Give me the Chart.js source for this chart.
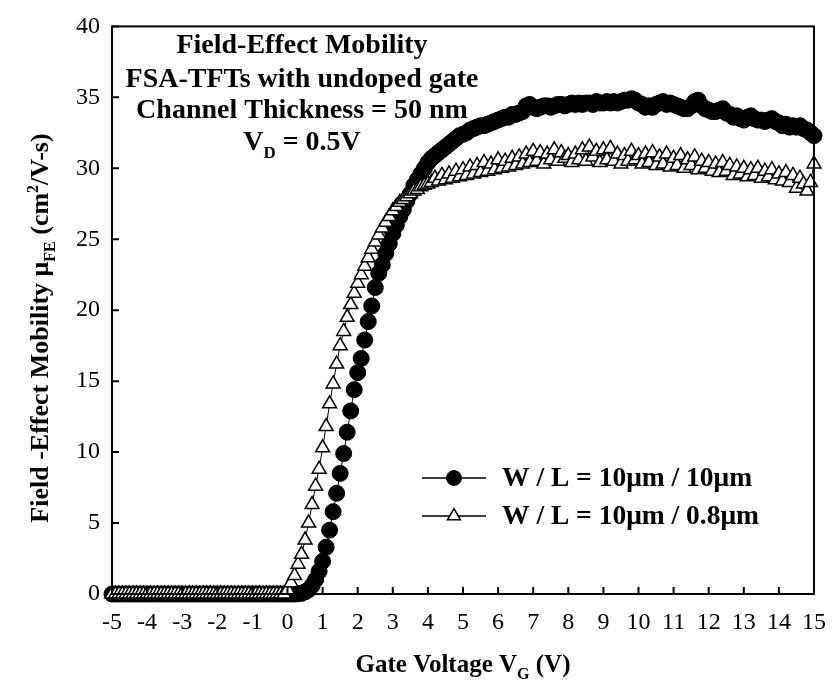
<!DOCTYPE html>
<html>
<head>
<meta charset="utf-8">
<script src="https://cdn.jsdelivr.net/npm/chart.js@4.4.1/dist/chart.umd.min.js"></script>
<style>
  body { margin: 0; background: #fff; }
  #wrap { width: 840px; height: 693px; }
</style>
</head>
<body>
<div id="wrap"><canvas id="mobilityChart" width="840" height="693"></canvas></div>
<script>
// gate voltage sweep: -5 V .. 15 V in 0.1 V steps
const gateVoltage = Array.from({ length: 201 }, (_, i) => Math.round(i - 50) / 10);

// W/L = 10um / 10um (filled circles)
const muLong = [
  0, 0, 0, 0, 0, 0, 0, 0, 0, 0,
  0, 0, 0, 0, 0, 0, 0, 0, 0, 0,
  0, 0, 0, 0, 0, 0, 0, 0, 0, 0,
  0, 0, 0, 0, 0, 0, 0, 0, 0, 0,
  0, 0, 0, 0, 0, 0, 0, 0, 0, 0,
  0, 0, 0, 0.02, 0.05, 0.15, 0.3, 0.6, 1.0, 1.6,
  2.3, 3.3, 4.5, 5.8, 7.1, 8.5, 9.9, 11.4, 12.9, 14.4,
  15.6, 16.6, 17.9, 19.2, 20.3, 21.6, 22.6, 23.2, 24.0, 24.7,
  25.4, 26.0, 26.6, 27.1, 27.7, 28.2, 28.8, 29.2, 29.6, 30.0,
  30.4, 30.7, 30.9, 31.1, 31.3, 31.5, 31.7, 31.9, 32.1, 32.3,
  32.4, 32.5, 32.7, 32.8, 32.9, 33.0, 33.0, 33.1, 33.2, 33.3,
  33.4, 33.5, 33.6, 33.6, 33.8, 33.8, 33.9, 34.0, 34.4, 34.5,
  34.3, 34.2, 34.3, 34.4, 34.4, 34.3, 34.4, 34.5, 34.5, 34.4,
  34.5, 34.6, 34.5, 34.6, 34.5, 34.6, 34.6, 34.5, 34.7, 34.6,
  34.6, 34.7, 34.6, 34.7, 34.6, 34.7, 34.8, 34.8, 34.9, 34.8,
  34.6, 34.5, 34.3, 34.4, 34.3, 34.5, 34.6, 34.7, 34.5, 34.6,
  34.5, 34.4, 34.3, 34.2, 34.2, 34.4, 34.7, 34.8, 34.4, 34.2,
  34.1, 34.0, 34.0, 34.1, 34.2, 33.9, 33.8, 33.6, 33.7, 33.5,
  33.4, 33.6, 33.7, 33.5, 33.4, 33.4, 33.3, 33.4, 33.5, 33.3,
  33.2, 33.0, 33.1, 32.9, 33.0, 32.9, 33.0, 32.8, 32.7, 32.5,
  32.3
];

// W/L = 10um / 0.8um (open triangles)
const muShort = [
  0, 0, 0, 0, 0, 0, 0, 0, 0, 0,
  0, 0, 0, 0, 0, 0, 0, 0, 0, 0,
  0, 0, 0, 0, 0, 0, 0, 0, 0, 0,
  0, 0, 0, 0, 0, 0, 0, 0, 0, 0,
  0, 0, 0, 0, 0, 0, 0, 0, 0, 0,
  0.3, 0.8, 1.3, 2.1, 2.8, 3.8, 5.0, 6.3, 7.6, 8.8,
  10.3, 11.8, 13.4, 14.8, 16.2, 17.5, 18.5, 19.5, 20.4, 21.2,
  21.9, 22.5, 23.1, 23.7, 24.3, 24.8, 25.3, 25.8, 26.2, 26.6,
  27.0, 27.3, 27.6, 27.8, 28.0, 28.2, 28.4, 28.5, 28.7, 28.8,
  28.9, 29.0, 29.3, 29.1, 29.5, 29.2, 29.6, 29.3, 29.8, 29.4,
  29.9, 29.5, 30.1, 29.6, 30.2, 29.7, 30.4, 29.8, 30.3, 29.9,
  30.6, 30.0, 30.5, 30.1, 30.7, 30.2, 30.8, 30.3, 31.0, 30.4,
  31.2, 30.5, 31.1, 30.3, 31.0, 30.6, 31.3, 30.5, 31.1, 30.7,
  30.9, 30.4, 31.0, 30.6, 31.3, 30.5, 31.5, 30.8, 31.2, 30.4,
  31.3, 30.6, 31.4, 30.5, 31.0, 30.3, 30.9, 30.5, 31.2, 30.6,
  30.9, 30.3, 31.0, 30.4, 31.1, 30.2, 30.8, 30.3, 31.0, 30.1,
  30.7, 30.2, 30.9, 30.0, 30.6, 30.2, 30.8, 29.9, 30.5, 30.0,
  30.4, 29.8, 30.3, 29.7, 30.4, 29.8, 30.2, 29.5, 30.1, 29.6,
  30.0, 29.4, 29.9, 29.5, 30.0, 29.3, 29.8, 29.4, 29.9, 29.2,
  29.6, 29.1, 29.7, 29.0, 29.5, 28.6, 29.3, 28.9, 28.4, 29.0,
  30.3
];

const seriesLabels = ["W / L = 10μm / 10μm", "W / L = 10μm / 0.8μm"];
const xRange = [-5, 15, 1];
const yRange = [0, 40, 5];

// rich text: [text, "" | "sub" | "sup"]
const noteLines = [
  [["Field-Effect Mobility", ""]],
  [["FSA-TFTs with undoped gate", ""]],
  [["Channel Thickness = 50 nm", ""]],
  [["V", ""], ["D", "sub"], [" = 0.5V", ""]]
];
const xTitle = [["Gate Voltage V", ""], ["G", "sub"], [" (V)", ""]];
const yTitle = [["Field -Effect Mobility μ", ""], ["FE", "sub"], [" (cm", ""], ["2", "sup"], ["/V-s)", ""]];

const SERIF = "'Liberation Serif', 'Times New Roman', serif";

function richWidth(ctx, segs, size) {
  let w = 0;
  segs.forEach(([t, kind]) => {
    ctx.font = "bold " + (kind ? Math.round(size * 0.62) : size) + "px " + SERIF;
    w += ctx.measureText(t).width;
  });
  return w;
}

function drawRich(ctx, segs, cx, y, size) {
  let x = cx - richWidth(ctx, segs, size) / 2;
  ctx.textAlign = "left";
  ctx.textBaseline = "alphabetic";
  segs.forEach(([t, kind]) => {
    const s = kind ? Math.round(size * 0.62) : size;
    ctx.font = "bold " + s + "px " + SERIF;
    let dy = 0;
    if (kind === "sub") dy = size * 0.28;
    if (kind === "sup") dy = -size * 0.38;
    ctx.fillText(t, x, y + dy);
    x += ctx.measureText(t).width;
  });
}

const decorPlugin = {
  id: "decor",
  afterDraw(chart) {
    const { ctx, chartArea: a, scales } = chart;
    ctx.save();
    ctx.fillStyle = "#000";
    ctx.strokeStyle = "#000";

    // frame
    ctx.lineWidth = 2;
    ctx.strokeRect(a.left, a.top, a.right - a.left, a.bottom - a.top);

    // inward ticks
    ctx.beginPath();
    scales.x.ticks.forEach((t) => {
      const px = scales.x.getPixelForValue(t.value);
      ctx.moveTo(px, a.bottom);
      ctx.lineTo(px, a.bottom - 7);
    });
    scales.y.ticks.forEach((t) => {
      const py = scales.y.getPixelForValue(t.value);
      ctx.moveTo(a.left, py);
      ctx.lineTo(a.left + 7, py);
    });
    ctx.stroke();

    // annotation block
    const noteX = 302;
    [53, 87, 118, 150].forEach((y, i) => drawRich(ctx, noteLines[i], noteX, y, 28));

    // axis titles
    drawRich(ctx, xTitle, (a.left + a.right) / 2, 672, 25);
    ctx.save();
    ctx.translate(48, 328);
    ctx.rotate(-Math.PI / 2);
    drawRich(ctx, yTitle, 0, 0, 26);
    ctx.restore();

    // legend
    const rows = [478, 516];
    chart.data.datasets.forEach((ds, i) => {
      const y = rows[i];
      ctx.lineWidth = 1.5;
      ctx.beginPath();
      ctx.moveTo(422, y);
      ctx.lineTo(486, y);
      ctx.stroke();
      ctx.fillStyle = ds.pointBackgroundColor;
      ctx.strokeStyle = ds.pointBorderColor;
      ctx.lineWidth = ds.pointBorderWidth;
      Chart.helpers.drawPoint(ctx, { pointStyle: ds.pointStyle, radius: 7.5, borderWidth: ds.pointBorderWidth, rotation: 0 }, 454, y);
      ctx.fillStyle = "#000";
      ctx.strokeStyle = "#000";
      ctx.font = "bold 27.5px " + SERIF;
      ctx.textAlign = "left";
      ctx.textBaseline = "middle";
      ctx.fillText(ds.label, 502, y + 1);
    });
    ctx.restore();
  }
};

new Chart(document.getElementById("mobilityChart"), {
  type: "line",
  data: {
    datasets: [
      {
        label: seriesLabels[0],
        data: gateVoltage.map((v, i) => ({ x: v, y: muLong[i] })),
        borderColor: "#000",
        borderWidth: 1,
        pointStyle: "circle",
        pointRadius: 8,
        pointBackgroundColor: "#000",
        pointBorderColor: "#000",
        pointBorderWidth: 1,
        clip: false,
        order: 1
      },
      {
        label: seriesLabels[1],
        data: gateVoltage.map((v, i) => ({ x: v, y: muShort[i] })),
        borderColor: "#000",
        borderWidth: 1,
        pointStyle: "triangle",
        pointRadius: 8,
        pointBackgroundColor: "#fff",
        pointBorderColor: "#000",
        pointBorderWidth: 1.5,
        clip: false,
        order: 0
      }
    ]
  },
  options: {
    responsive: false,
    animation: false,
    layout: { padding: { left: 0, top: 22, right: 14, bottom: 0 } },
    plugins: { legend: { display: false }, tooltip: { enabled: false } },
    scales: {
      x: {
        type: "linear",
        min: xRange[0],
        max: xRange[1],
        ticks: {
          stepSize: xRange[2],
          color: "#000",
          font: { family: SERIF, size: 24 },
          padding: 14,
          maxRotation: 0,
          autoSkip: false
        },
        grid: { display: false, drawTicks: false },
        border: { display: false },
        afterFit: (s) => { s.height = 99; }
      },
      y: {
        min: yRange[0],
        max: yRange[1],
        ticks: {
          stepSize: yRange[2],
          color: "#000",
          font: { family: SERIF, size: 24 },
          padding: 12
        },
        grid: { display: false, drawTicks: false },
        border: { display: false },
        afterFit: (s) => { s.width = 112; }
      }
    }
  },
  plugins: [decorPlugin]
});
</script>
</body>
</html>
